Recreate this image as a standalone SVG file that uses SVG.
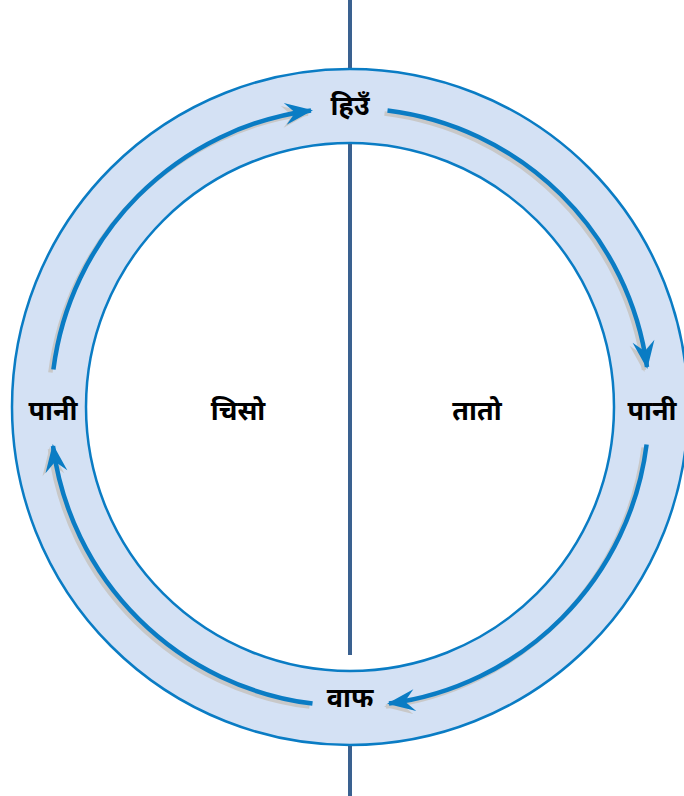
<svg xmlns="http://www.w3.org/2000/svg" width="684" height="796" viewBox="0 0 684 796">
  <style>
    .axis { stroke: #3a6190; stroke-width: 4; }
    .ring { fill: #d4e1f4; stroke: #0a7cc4; stroke-width: 2.5; }
    .hole { fill: #ffffff; stroke: #0a7cc4; stroke-width: 2.5; }
    .arc { fill: none; stroke: #0a7cc4; stroke-width: 4.5; }
    .shadow { fill: none; stroke: #c8c8c8; stroke-width: 4.5; }
    .lbl { font-family: "Noto Sans Devanagari", "Noto Sans", "Lohit Devanagari", sans-serif; font-size: 27px; font-weight: bold; fill: #000000; text-anchor: middle; }
  </style>
  <defs>
    <marker id="ah" markerUnits="userSpaceOnUse" markerWidth="32" markerHeight="26" viewBox="-28 -13 32 26" refX="0" refY="0" orient="auto">
      <path d="M2,0 L-26,-11 L-16,0 L-26,11 Z" fill="#0a7cc4"/>
    </marker>
    <marker id="ahs" markerUnits="userSpaceOnUse" markerWidth="32" markerHeight="26" viewBox="-28 -13 32 26" refX="0" refY="0" orient="auto">
      <path d="M2,0 L-26,-11 L-16,0 L-26,11 Z" fill="#c8c8c8"/>
    </marker>
  </defs>

  <g id="axis-top"><line class="axis" x1="350" y1="0" x2="350" y2="70"/></g>
  <g id="ring">
    <circle class="ring" cx="350" cy="407" r="338"/>
    <circle class="hole" cx="350" cy="407" r="264"/>
  </g>
  <g id="axis-mid"><line class="axis" x1="350" y1="144" x2="350" y2="655"/></g>
  <g id="axis-bottom"><line class="axis" x1="350" y1="746" x2="350" y2="796"/></g>

  <g id="connectors">
    <g transform="translate(-3,3)">
      <path class="shadow" d="M53.4,369.5 A299,299 0 0 1 311,110.4" marker-end="url(#ahs)"/>
      <path class="shadow" d="M387.5,110.4 A299,299 0 0 1 647,367" marker-end="url(#ahs)"/>
      <path class="shadow" d="M646.6,444.5 A299,299 0 0 1 389,703.6" marker-end="url(#ahs)"/>
      <path class="shadow" d="M312.5,703.6 A299,299 0 0 1 53,446" marker-end="url(#ahs)"/>
    </g>
    <path class="arc" d="M53.4,369.5 A299,299 0 0 1 311,110.4" marker-end="url(#ah)"/>
    <path class="arc" d="M387.5,110.4 A299,299 0 0 1 647,367" marker-end="url(#ah)"/>
    <path class="arc" d="M646.6,444.5 A299,299 0 0 1 389,703.6" marker-end="url(#ah)"/>
    <path class="arc" d="M312.5,703.6 A299,299 0 0 1 53,446" marker-end="url(#ah)"/>
  </g>

  <g id="node-ice"><text class="lbl" x="350" y="115">हिउँ</text></g>
  <g id="node-water-left"><text class="lbl" x="53" y="420">पानी</text></g>
  <g id="node-water-right"><text class="lbl" x="652" y="420">पानी</text></g>
  <g id="node-vapour"><text class="lbl" x="350" y="707">वाफ</text></g>
  <g id="node-cold"><text class="lbl" x="238" y="420">चिसो</text></g>
  <g id="node-hot"><text class="lbl" x="477" y="420">तातो</text></g>
</svg>
